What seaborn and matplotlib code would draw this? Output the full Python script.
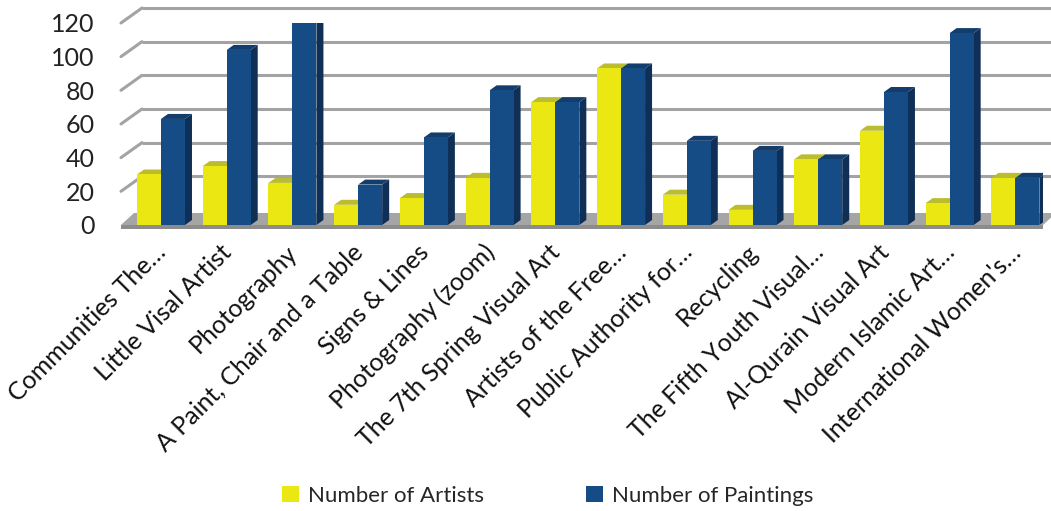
import pandas as pd
import matplotlib.pyplot as plt
import matplotlib.transforms as mtransforms
import seaborn as sns
from matplotlib.patches import Polygon, Patch

# data
events = ['Communities The…', 'Little Visal Artist', 'Photography', 'A Paint, Chair and a Table',
          'Signs & Lines', 'Photography (zoom)', 'The 7th Spring Visual Art', 'Artists of the Free…',
          'Public Authority for…', 'Recycling', 'The Fifth Youth Visual…', 'Al-Qurain Visual Art',
          'Modern Islamic Art…', "International Women's…"]
artists = [30, 35, 25, 12, 16, 28, 73, 93, 18, 9, 39, 56, 13, 28]
paintings = [63, 104, 120, 24, 52, 80, 73, 93, 50, 44, 39, 79, 114, 28]
series = ['Number of Artists', 'Number of Paintings']
yticks = [0, 20, 40, 60, 80, 100, 120]

front_cols = ['#ebe713', '#164c85']
side_cols = ['#b9b80f', '#102f56']
top_cols = ['#bcbd2e', '#123d6c']

df = pd.DataFrame({
    'Event': events * 2,
    'Series': [series[0]] * len(events) + [series[1]] * len(events),
    'Count': artists + paintings,
})

sns.set_style('white')
plt.rcParams['font.family'] = ['Lato', 'DejaVu Sans']

fig = plt.figure(figsize=(10.51, 5.11), dpi=100)
ax = fig.add_axes([0.1151, 0.5597, 0.8773, 0.3953])
sns.barplot(data=df, x='Event', y='Count', hue='Series', palette=front_cols,
            width=0.73, gap=0, saturation=1, legend=False, ax=ax)
ax.set_xlim(-0.609, 13.42)
ax.set_ylim(0, 120)
for s in ax.spines.values():
    s.set_visible(False)

# pixel -> data conversion for the fake 3d depth
fig.canvas.draw()
p0 = ax.transData.transform((0, 0))
p1 = ax.transData.transform((1, 1))
ux = 1.0 / (p1[0] - p0[0])
uy = 1.0 / (p1[1] - p0[1])

x0, x1 = ax.get_xlim()
wdx, wdy = 21 * ux, 15 * uy   # back wall depth
fdx, fdy = 13 * ux, 12 * uy   # floor depth
bdx, bdy = 7 * ux, 5 * uy     # bar depth

# back wall gridlines + diagonals at the left
for t in yticks[1:]:
    ax.plot([x0 + wdx, x1 + wdx], [t + wdy, t + wdy], color='#a3a3a3', lw=2.2,
            zorder=0.5, clip_on=False, solid_capstyle='butt')
    ax.plot([x0, x0 + wdx], [t, t + wdy], color='#a3a3a3', lw=2.2,
            zorder=0.5, clip_on=False)

# floor
ax.add_patch(Polygon([(x0, 0), (x1, 0), (x1 + fdx, fdy), (x0 + fdx, fdy)],
                     closed=True, facecolor='#a5a5a5', edgecolor='none',
                     zorder=0.6, clip_on=False))
ax.add_patch(Polygon([(x0, 0), (x1, 0), (x1, -4 * uy), (x0, -4 * uy)],
                     closed=True, facecolor='#8c8c8c', edgecolor='none',
                     zorder=0.6, clip_on=False))

# side and top faces of each bar
n = len(events)
for i, bar in enumerate(ax.patches[:2 * n]):
    k = i // n
    x = bar.get_x()
    w = bar.get_width()
    h = bar.get_height()
    z = 2 + 2 * k
    bar.set_zorder(z + 1)
    bar.set_edgecolor('none')
    ax.add_patch(Polygon([(x + w, 0), (x + w, h), (x + w + bdx, h + bdy), (x + w + bdx, bdy)],
                         closed=True, facecolor=side_cols[k], edgecolor='none', zorder=z))
    ax.add_patch(Polygon([(x, h), (x + w, h), (x + w + bdx, h + bdy), (x + bdx, h + bdy)],
                         closed=True, facecolor=top_cols[k], edgecolor='none', zorder=z))

ax.set_yticks(yticks)
ax.set_yticklabels([str(t) for t in yticks], fontsize=18, color='#222222')
ax.tick_params(axis='y', length=0, pad=19)
ax.set_xticks(range(n))
ax.set_xticklabels(events, rotation=45, ha='right', va='center',
                   rotation_mode='anchor', fontsize=18, color='#111111')
ax.tick_params(axis='x', length=0, pad=17)
shift = mtransforms.ScaledTranslation(1 / 72, 0, fig.dpi_scale_trans)
for lab in ax.get_xticklabels():
    lab.set_transform(lab.get_transform() + shift)
ax.set_xlabel('')
ax.set_ylabel('')

handles = [Patch(facecolor=c, edgecolor='none') for c in front_cols]
fig.legend(handles, series, loc='center', bbox_to_anchor=(0.521, 0.03), ncol=2,
           frameon=False, fontsize=16, handlelength=0.75, handleheight=0.75,
           handletextpad=0.4, columnspacing=4.6)

fig.savefig('out.png', dpi=100)
